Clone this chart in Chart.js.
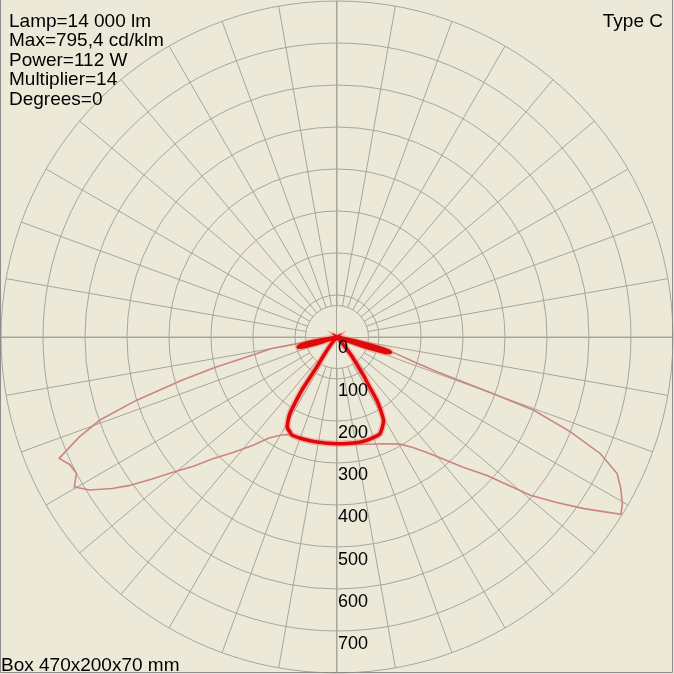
<!DOCTYPE html>
<html>
<head>
<meta charset="utf-8">
<script src="https://cdn.jsdelivr.net/npm/chart.js@4.4.1/dist/chart.umd.min.js"></script>
<style>
  body { margin: 0; background: #ECE9D8; }
  canvas { display: block; }
</style>
</head>
<body>
<canvas id="polar" width="674" height="674"></canvas>
<script>
// angles in degrees from nadir (negative = left), intensity in cd/klm
const thinAngles = [-180, -90, -84, -82, -80, -78, -76, -74.4, -72.5, -70.7, -68.8, -66.4, -64.5, -62.4, -60.3, -58.3, -56, -54.4, -52.5, -50.5, -48, -45.6, -42, -37.8, -34, -30, -26, -20, -10, 0, 10, 17, 23.5, 30.5, 34.5, 38, 41, 44, 47.3, 50.7, 53, 55.2, 58, 59.7, 62, 64, 66.1, 67.9, 69.6, 70.1, 70.8, 72, 74, 76, 79, 82, 85, 90, 180];
const thinCd = [0, 0, 0, 60, 160, 205, 300, 385, 500, 598, 658, 722, 705, 700, 720, 693, 645, 607, 555, 506, 460, 414, 370, 326, 290, 270, 258, 254, 254, 256, 260, 267, 277, 296, 319, 350, 385, 430, 486, 595, 655, 716, 797, 787, 765, 742, 686, 600, 500, 380, 252, 195, 150, 115, 80, 40, 0, 0, 0];

const thickAngles = [-180, -90, -81, -79.5, -77.5, -75.5, -73.5, -72, -70, -42, -40, -36, -34, -33.5, -32.5, -31.7, -30.4, -28.7, -26.5, -24.5, -18, -12, 0, 12, 16, 22, 24, 27.2, 29.2, 31, 32.2, 33.5, 34.5, 36, 38, 40, 42, 69, 70.5, 72.5, 74, 75.5, 77, 78.5, 90, 180];
const thickCd = [0, 0, 0, 55, 88, 95, 78, 40, 0, 0, 20, 50, 90, 150, 185, 212, 230, 246, 252, 257, 256, 255, 254, 256, 256, 254, 252, 238, 227, 200, 178, 130, 115, 80, 55, 22, 0, 0, 70, 120, 132, 110, 60, 0, 0, 0];

const ringValues = [100, 200, 300, 400, 500, 600, 700, 800];
const tickValues = [0, 100, 200, 300, 400, 500, 600, 700];
const tickLabels = ['0', '100', '200', '300', '400', '500', '600', '700'];
const infoLines = ['Lamp=14 000 lm', 'Max=795,4 cd/klm', 'Power=112 W', 'Multiplier=14', 'Degrees=0'];
const typeLabel = 'Type C';
const boxLabel = 'Box 470x200x70 mm';

const LIMIT = 802.4;
const gridColor = '#a8a69c';
const font = '"Liberation Sans", Arial, sans-serif';

function toXY(angles, cds) {
    return angles.map((a, i) => {
        const t = a * Math.PI / 180;
        return { x: cds[i] * Math.sin(t), y: -cds[i] * Math.cos(t) };
    });
}

const polarGrid = {
    id: 'polarGrid',
    beforeDraw(chart) {
        const ctx = chart.ctx;
        ctx.save();
        ctx.fillStyle = '#ECE9D8';
        ctx.fillRect(0, 0, chart.width, chart.height);
        ctx.restore();
    },
    beforeDatasetsDraw(chart) {
        const { ctx, scales: { x, y } } = chart;
        const cx = x.getPixelForValue(0), cy = y.getPixelForValue(0);
        const rad = v => x.getPixelForValue(v) - cx;
        ctx.save();
        ctx.strokeStyle = gridColor;
        ctx.lineWidth = 1;
        // rings
        [75].concat(ringValues).forEach(v => {
            ctx.beginPath();
            ctx.arc(cx, cy, rad(v), 0, Math.PI * 2);
            ctx.stroke();
        });
        // spokes every 10 degrees
        const r0 = rad(75), r1 = rad(800);
        for (let a = 0; a < 360; a += 10) {
            const t = a * Math.PI / 180;
            ctx.beginPath();
            ctx.moveTo(cx + r0 * Math.sin(t), cy + r0 * Math.cos(t));
            ctx.lineTo(cx + r1 * Math.sin(t), cy + r1 * Math.cos(t));
            ctx.stroke();
        }
        // axes through the centre
        ctx.beginPath();
        ctx.moveTo(Math.round(cx) - 0.5, cy - r1);
        ctx.lineTo(Math.round(cx) - 0.5, cy + r1);
        ctx.moveTo(cx - r1, Math.round(cy) + 0.5);
        ctx.lineTo(cx + r1, Math.round(cy) + 0.5);
        ctx.stroke();
        ctx.restore();
    },
    afterDatasetsDraw(chart) {
        const { ctx, scales: { x, y } } = chart;
        const cx = x.getPixelForValue(0);
        ctx.save();
        ctx.fillStyle = '#000';
        ctx.font = '18px ' + font;
        ctx.textAlign = 'left';
        ctx.textBaseline = 'middle';
        tickValues.forEach((v, i) => {
            ctx.fillText(tickLabels[i], cx + 1, y.getPixelForValue(-v * 1.006) + 11.5);
        });
        ctx.font = '19px ' + font;
        ctx.textBaseline = 'alphabetic';
        infoLines.forEach((s, i) => ctx.fillText(s, 9, 26.5 + i * 19.6));
        ctx.textAlign = 'right';
        ctx.fillText(typeLabel, 663, 26.5);
        ctx.textAlign = 'left';
        ctx.fillText(boxLabel, 1, 670.5);
        // frame
        ctx.strokeStyle = '#8c8c8c';
        ctx.lineWidth = 1;
        ctx.beginPath();
        ctx.moveTo(0.5, 0);
        ctx.lineTo(0.5, 672.5);
        ctx.lineTo(672.5, 672.5);
        ctx.lineTo(672.5, 0);
        ctx.stroke();
        ctx.restore();
    }
};

new Chart(document.getElementById('polar'), {
    type: 'scatter',
    data: {
        datasets: [
            { data: toXY(thinAngles, thinCd), showLine: true, borderColor: '#c98585', borderWidth: 1.6, pointRadius: 0, order: 3 },
            { data: toXY(thickAngles, thickCd), showLine: true, borderColor: 'rgba(255,110,110,0.45)', borderWidth: 6.5, pointRadius: 0, tension: 0.25, order: 2 },
            { data: toXY(thickAngles, thickCd), showLine: true, borderColor: '#dd0a0a', borderWidth: 3.6, pointRadius: 0, tension: 0.25, order: 1 }
        ]
    },
    options: {
        responsive: false,
        animation: false,
        layout: { padding: 0 },
        plugins: { legend: { display: false }, tooltip: { enabled: false } },
        scales: {
            x: { type: 'linear', min: -LIMIT, max: LIMIT, display: false },
            y: { type: 'linear', min: -LIMIT, max: LIMIT, display: false }
        }
    },
    plugins: [polarGrid]
});
</script>
</body>
</html>
